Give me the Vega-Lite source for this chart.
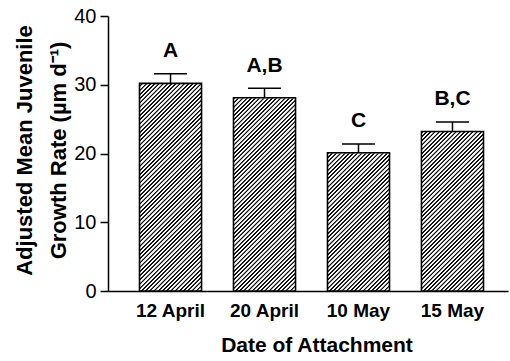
{
"$schema":"https://vega.github.io/schema/vega-lite/v6.json",
"width":400,"height":275,
"autosize":{"type":"none"},
"padding":{"left":108,"top":16,"right":2,"bottom":70},
"background":"white",
"config":{"view":{"stroke":null},"font":"Liberation Sans"},
"data":{"values":[
{"date":"12 April","value":30.2,"upper":31.6,"label":"A"},
{"date":"20 April","value":28.1,"upper":29.5,"label":"A,B"},
{"date":"10 May","value":20.1,"upper":21.4,"label":"C"},
{"date":"15 May","value":23.2,"upper":24.6,"label":"B,C"}
]},
"encoding":{
"x":{"field":"date","type":"nominal","sort":null,
"scale":{"paddingInner":0.34,"paddingOuter":0.298,"align":0.5625},
"axis":{"title":"Date of Attachment","titleFont":"Liberation Sans","titleFontSize":21,"titleFontWeight":"bold","titleColor":"black","titleX":208.5,"titleY":60.5,"titleBaseline":"alphabetic","titleAlign":"center",
"labelFont":"Liberation Sans","labelFontSize":19,"labelFontWeight":"bold","labelColor":"black","labelAngle":0,"labelBaseline":"alphabetic","labelPadding":25.5,
"ticks":false,"tickSize":0,"domainColor":"black","domainWidth":1.5,"grid":false}}
},
"layer":[
{"mark":{"type":"bar","strokeWidth":0,"fill":{"gradient":"linear","x1":0,"y1":0,"x2":0.26306,"y2":1.16623,"stops":[
{"offset":0,"color":"#fff"},{"offset":0.0055,"color":"#fff"},{"offset":0.007,"color":"#111"},{"offset":0.011,"color":"#111"},
{"offset":0.0125,"color":"#fff"},{"offset":0.018,"color":"#fff"},{"offset":0.0195,"color":"#111"},{"offset":0.0235,"color":"#111"},
{"offset":0.025,"color":"#fff"},{"offset":0.0305,"color":"#fff"},{"offset":0.032,"color":"#111"},{"offset":0.036,"color":"#111"},
{"offset":0.0375,"color":"#fff"},{"offset":0.043,"color":"#fff"},{"offset":0.0445,"color":"#111"},{"offset":0.0485,"color":"#111"},
{"offset":0.05,"color":"#fff"},{"offset":0.0555,"color":"#fff"},{"offset":0.057,"color":"#111"},{"offset":0.061,"color":"#111"},
{"offset":0.0625,"color":"#fff"},{"offset":0.068,"color":"#fff"},{"offset":0.0695,"color":"#111"},{"offset":0.0735,"color":"#111"},
{"offset":0.075,"color":"#fff"},{"offset":0.0805,"color":"#fff"},{"offset":0.082,"color":"#111"},{"offset":0.086,"color":"#111"},
{"offset":0.0875,"color":"#fff"},{"offset":0.093,"color":"#fff"},{"offset":0.0945,"color":"#111"},{"offset":0.0985,"color":"#111"},
{"offset":0.1,"color":"#fff"},{"offset":0.1055,"color":"#fff"},{"offset":0.107,"color":"#111"},{"offset":0.111,"color":"#111"},
{"offset":0.1125,"color":"#fff"},{"offset":0.118,"color":"#fff"},{"offset":0.1195,"color":"#111"},{"offset":0.1235,"color":"#111"},
{"offset":0.125,"color":"#fff"},{"offset":0.1305,"color":"#fff"},{"offset":0.132,"color":"#111"},{"offset":0.136,"color":"#111"},
{"offset":0.1375,"color":"#fff"},{"offset":0.143,"color":"#fff"},{"offset":0.1445,"color":"#111"},{"offset":0.1485,"color":"#111"},
{"offset":0.15,"color":"#fff"},{"offset":0.1555,"color":"#fff"},{"offset":0.157,"color":"#111"},{"offset":0.161,"color":"#111"},
{"offset":0.1625,"color":"#fff"},{"offset":0.168,"color":"#fff"},{"offset":0.1695,"color":"#111"},{"offset":0.1735,"color":"#111"},
{"offset":0.175,"color":"#fff"},{"offset":0.1805,"color":"#fff"},{"offset":0.182,"color":"#111"},{"offset":0.186,"color":"#111"},
{"offset":0.1875,"color":"#fff"},{"offset":0.193,"color":"#fff"},{"offset":0.1945,"color":"#111"},{"offset":0.1985,"color":"#111"},
{"offset":0.2,"color":"#fff"},{"offset":0.2055,"color":"#fff"},{"offset":0.207,"color":"#111"},{"offset":0.211,"color":"#111"},
{"offset":0.2125,"color":"#fff"},{"offset":0.218,"color":"#fff"},{"offset":0.2195,"color":"#111"},{"offset":0.2235,"color":"#111"},
{"offset":0.225,"color":"#fff"},{"offset":0.2305,"color":"#fff"},{"offset":0.232,"color":"#111"},{"offset":0.236,"color":"#111"},
{"offset":0.2375,"color":"#fff"},{"offset":0.243,"color":"#fff"},{"offset":0.2445,"color":"#111"},{"offset":0.2485,"color":"#111"},
{"offset":0.25,"color":"#fff"},{"offset":0.2555,"color":"#fff"},{"offset":0.257,"color":"#111"},{"offset":0.261,"color":"#111"},
{"offset":0.2625,"color":"#fff"},{"offset":0.268,"color":"#fff"},{"offset":0.2695,"color":"#111"},{"offset":0.2735,"color":"#111"},
{"offset":0.275,"color":"#fff"},{"offset":0.2805,"color":"#fff"},{"offset":0.282,"color":"#111"},{"offset":0.286,"color":"#111"},
{"offset":0.2875,"color":"#fff"},{"offset":0.293,"color":"#fff"},{"offset":0.2945,"color":"#111"},{"offset":0.2985,"color":"#111"},
{"offset":0.3,"color":"#fff"},{"offset":0.3055,"color":"#fff"},{"offset":0.307,"color":"#111"},{"offset":0.311,"color":"#111"},
{"offset":0.3125,"color":"#fff"},{"offset":0.318,"color":"#fff"},{"offset":0.3195,"color":"#111"},{"offset":0.3235,"color":"#111"},
{"offset":0.325,"color":"#fff"},{"offset":0.3305,"color":"#fff"},{"offset":0.332,"color":"#111"},{"offset":0.336,"color":"#111"},
{"offset":0.3375,"color":"#fff"},{"offset":0.343,"color":"#fff"},{"offset":0.3445,"color":"#111"},{"offset":0.3485,"color":"#111"},
{"offset":0.35,"color":"#fff"},{"offset":0.3555,"color":"#fff"},{"offset":0.357,"color":"#111"},{"offset":0.361,"color":"#111"},
{"offset":0.3625,"color":"#fff"},{"offset":0.368,"color":"#fff"},{"offset":0.3695,"color":"#111"},{"offset":0.3735,"color":"#111"},
{"offset":0.375,"color":"#fff"},{"offset":0.3805,"color":"#fff"},{"offset":0.382,"color":"#111"},{"offset":0.386,"color":"#111"},
{"offset":0.3875,"color":"#fff"},{"offset":0.393,"color":"#fff"},{"offset":0.3945,"color":"#111"},{"offset":0.3985,"color":"#111"},
{"offset":0.4,"color":"#fff"},{"offset":0.4055,"color":"#fff"},{"offset":0.407,"color":"#111"},{"offset":0.411,"color":"#111"},
{"offset":0.4125,"color":"#fff"},{"offset":0.418,"color":"#fff"},{"offset":0.4195,"color":"#111"},{"offset":0.4235,"color":"#111"},
{"offset":0.425,"color":"#fff"},{"offset":0.4305,"color":"#fff"},{"offset":0.432,"color":"#111"},{"offset":0.436,"color":"#111"},
{"offset":0.4375,"color":"#fff"},{"offset":0.443,"color":"#fff"},{"offset":0.4445,"color":"#111"},{"offset":0.4485,"color":"#111"},
{"offset":0.45,"color":"#fff"},{"offset":0.4555,"color":"#fff"},{"offset":0.457,"color":"#111"},{"offset":0.461,"color":"#111"},
{"offset":0.4625,"color":"#fff"},{"offset":0.468,"color":"#fff"},{"offset":0.4695,"color":"#111"},{"offset":0.4735,"color":"#111"},
{"offset":0.475,"color":"#fff"},{"offset":0.4805,"color":"#fff"},{"offset":0.482,"color":"#111"},{"offset":0.486,"color":"#111"},
{"offset":0.4875,"color":"#fff"},{"offset":0.493,"color":"#fff"},{"offset":0.4945,"color":"#111"},{"offset":0.4985,"color":"#111"},
{"offset":0.5,"color":"#fff"},{"offset":0.5055,"color":"#fff"},{"offset":0.507,"color":"#111"},{"offset":0.511,"color":"#111"},
{"offset":0.5125,"color":"#fff"},{"offset":0.518,"color":"#fff"},{"offset":0.5195,"color":"#111"},{"offset":0.5235,"color":"#111"},
{"offset":0.525,"color":"#fff"},{"offset":0.5305,"color":"#fff"},{"offset":0.532,"color":"#111"},{"offset":0.536,"color":"#111"},
{"offset":0.5375,"color":"#fff"},{"offset":0.543,"color":"#fff"},{"offset":0.5445,"color":"#111"},{"offset":0.5485,"color":"#111"},
{"offset":0.55,"color":"#fff"},{"offset":0.5555,"color":"#fff"},{"offset":0.557,"color":"#111"},{"offset":0.561,"color":"#111"},
{"offset":0.5625,"color":"#fff"},{"offset":0.568,"color":"#fff"},{"offset":0.5695,"color":"#111"},{"offset":0.5735,"color":"#111"},
{"offset":0.575,"color":"#fff"},{"offset":0.5805,"color":"#fff"},{"offset":0.582,"color":"#111"},{"offset":0.586,"color":"#111"},
{"offset":0.5875,"color":"#fff"},{"offset":0.593,"color":"#fff"},{"offset":0.5945,"color":"#111"},{"offset":0.5985,"color":"#111"},
{"offset":0.6,"color":"#fff"},{"offset":0.6055,"color":"#fff"},{"offset":0.607,"color":"#111"},{"offset":0.611,"color":"#111"},
{"offset":0.6125,"color":"#fff"},{"offset":0.618,"color":"#fff"},{"offset":0.6195,"color":"#111"},{"offset":0.6235,"color":"#111"},
{"offset":0.625,"color":"#fff"},{"offset":0.6305,"color":"#fff"},{"offset":0.632,"color":"#111"},{"offset":0.636,"color":"#111"},
{"offset":0.6375,"color":"#fff"},{"offset":0.643,"color":"#fff"},{"offset":0.6445,"color":"#111"},{"offset":0.6485,"color":"#111"},
{"offset":0.65,"color":"#fff"},{"offset":0.6555,"color":"#fff"},{"offset":0.657,"color":"#111"},{"offset":0.661,"color":"#111"},
{"offset":0.6625,"color":"#fff"},{"offset":0.668,"color":"#fff"},{"offset":0.6695,"color":"#111"},{"offset":0.6735,"color":"#111"},
{"offset":0.675,"color":"#fff"},{"offset":0.6805,"color":"#fff"},{"offset":0.682,"color":"#111"},{"offset":0.686,"color":"#111"},
{"offset":0.6875,"color":"#fff"},{"offset":0.693,"color":"#fff"},{"offset":0.6945,"color":"#111"},{"offset":0.6985,"color":"#111"},
{"offset":0.7,"color":"#fff"},{"offset":0.7055,"color":"#fff"},{"offset":0.707,"color":"#111"},{"offset":0.711,"color":"#111"},
{"offset":0.7125,"color":"#fff"},{"offset":0.718,"color":"#fff"},{"offset":0.7195,"color":"#111"},{"offset":0.7235,"color":"#111"},
{"offset":0.725,"color":"#fff"},{"offset":0.7305,"color":"#fff"},{"offset":0.732,"color":"#111"},{"offset":0.736,"color":"#111"},
{"offset":0.7375,"color":"#fff"},{"offset":0.743,"color":"#fff"},{"offset":0.7445,"color":"#111"},{"offset":0.7485,"color":"#111"},
{"offset":0.75,"color":"#fff"},{"offset":0.7555,"color":"#fff"},{"offset":0.757,"color":"#111"},{"offset":0.761,"color":"#111"},
{"offset":0.7625,"color":"#fff"},{"offset":0.768,"color":"#fff"},{"offset":0.7695,"color":"#111"},{"offset":0.7735,"color":"#111"},
{"offset":0.775,"color":"#fff"},{"offset":0.7805,"color":"#fff"},{"offset":0.782,"color":"#111"},{"offset":0.786,"color":"#111"},
{"offset":0.7875,"color":"#fff"},{"offset":0.793,"color":"#fff"},{"offset":0.7945,"color":"#111"},{"offset":0.7985,"color":"#111"},
{"offset":0.8,"color":"#fff"},{"offset":0.8055,"color":"#fff"},{"offset":0.807,"color":"#111"},{"offset":0.811,"color":"#111"},
{"offset":0.8125,"color":"#fff"},{"offset":0.818,"color":"#fff"},{"offset":0.8195,"color":"#111"},{"offset":0.8235,"color":"#111"},
{"offset":0.825,"color":"#fff"},{"offset":0.8305,"color":"#fff"},{"offset":0.832,"color":"#111"},{"offset":0.836,"color":"#111"},
{"offset":0.8375,"color":"#fff"},{"offset":0.843,"color":"#fff"},{"offset":0.8445,"color":"#111"},{"offset":0.8485,"color":"#111"},
{"offset":0.85,"color":"#fff"},{"offset":0.8555,"color":"#fff"},{"offset":0.857,"color":"#111"},{"offset":0.861,"color":"#111"},
{"offset":0.8625,"color":"#fff"},{"offset":0.868,"color":"#fff"},{"offset":0.8695,"color":"#111"},{"offset":0.8735,"color":"#111"},
{"offset":0.875,"color":"#fff"},{"offset":0.8805,"color":"#fff"},{"offset":0.882,"color":"#111"},{"offset":0.886,"color":"#111"},
{"offset":0.8875,"color":"#fff"},{"offset":0.893,"color":"#fff"},{"offset":0.8945,"color":"#111"},{"offset":0.8985,"color":"#111"},
{"offset":0.9,"color":"#fff"},{"offset":0.9055,"color":"#fff"},{"offset":0.907,"color":"#111"},{"offset":0.911,"color":"#111"},
{"offset":0.9125,"color":"#fff"},{"offset":0.918,"color":"#fff"},{"offset":0.9195,"color":"#111"},{"offset":0.9235,"color":"#111"},
{"offset":0.925,"color":"#fff"},{"offset":0.9305,"color":"#fff"},{"offset":0.932,"color":"#111"},{"offset":0.936,"color":"#111"},
{"offset":0.9375,"color":"#fff"},{"offset":0.943,"color":"#fff"},{"offset":0.9445,"color":"#111"},{"offset":0.9485,"color":"#111"},
{"offset":0.95,"color":"#fff"},{"offset":0.9555,"color":"#fff"},{"offset":0.957,"color":"#111"},{"offset":0.961,"color":"#111"},
{"offset":0.9625,"color":"#fff"},{"offset":0.968,"color":"#fff"},{"offset":0.9695,"color":"#111"},{"offset":0.9735,"color":"#111"},
{"offset":0.975,"color":"#fff"},{"offset":0.9805,"color":"#fff"},{"offset":0.982,"color":"#111"},{"offset":0.986,"color":"#111"},
{"offset":0.9875,"color":"#fff"},{"offset":0.993,"color":"#fff"},{"offset":0.9945,"color":"#111"},{"offset":0.9985,"color":"#111"},
{"offset":1,"color":"#fff"}
]}},
"encoding":{"y":{"datum":40,"type":"quantitative","scale":{"domain":[0,40],"nice":false}}}},
{"mark":{"type":"bar","fill":"white","stroke":"white","strokeWidth":1},
"encoding":{"y":{"field":"value","type":"quantitative","scale":{"domain":[0,40],"nice":false}},"y2":{"datum":40}}},
{"mark":{"type":"bar","fill":"transparent","stroke":"black","strokeWidth":1.6},
"encoding":{"y":{"field":"value","type":"quantitative","scale":{"domain":[0,40],"nice":false},
"axis":{"title":["Adjusted Mean Juvenile","Growth Rate (µm d⁻¹)"],"titleFont":"Liberation Sans","titleFontSize":22,"titleFontWeight":"bold","titleColor":"black","titleLineHeight":33.5,"titleX":-76.3,"titleY":134,"titleBaseline":"alphabetic","titleAlign":"center",
"values":[0,5,10,15,20,25,30,35,40],"labelExpr":"datum.value % 10 === 0 ? datum.label : ''",
"tickSize":{"condition":{"test":"datum.value % 10 === 0","value":8},"value":5},"tickWidth":1.5,"tickColor":"black",
"domainColor":"black","domainWidth":1.5,"labelFont":"Liberation Sans","labelFontSize":20,"labelColor":"black","labelPadding":4,"grid":false}}}},
{"mark":{"type":"rule","color":"black","strokeWidth":1.5},
"encoding":{"y":{"field":"value","type":"quantitative","scale":{"domain":[0,40],"nice":false}},"y2":{"field":"upper"}}},
{"mark":{"type":"tick","color":"black","opacity":1,"size":33,"thickness":1.5},
"encoding":{"y":{"field":"upper","type":"quantitative","scale":{"domain":[0,40],"nice":false}}}},
{"mark":{"type":"text","font":"Liberation Sans","fontSize":21,"fontWeight":"bold","color":"black","baseline":"alphabetic","dy":-16.5},
"encoding":{"y":{"field":"upper","type":"quantitative","scale":{"domain":[0,40],"nice":false}},"text":{"field":"label"}}}
]
}
